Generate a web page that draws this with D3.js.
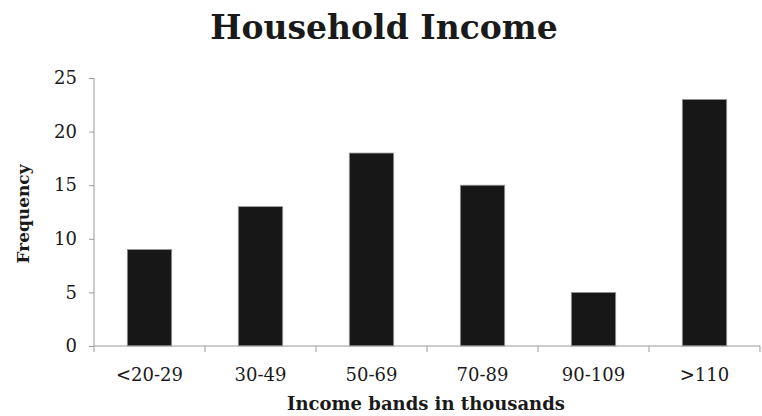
<!DOCTYPE html>
<html>
<head>
<meta charset="utf-8">
<script src="https://cdn.jsdelivr.net/npm/d3@7"></script>
<style>
  body { margin: 0; background: #fff; }
  text { font-family: "DejaVu Serif", serif; fill: #1a1a1a; }
</style>
</head>
<body>
<svg id="chart" width="762" height="416"></svg>
<script>
// income bands and how many households fell in each
var bands = ["<20-29", "30-49", "50-69", "70-89", "90-109", ">110"];
var frequency = [9, 13, 18, 15, 5, 23];
var yTicks = [0, 5, 10, 15, 20, 25];

var W = 762, H = 416;
var margin = {top: 78, right: 2, bottom: 70, left: 94};

var svg = d3.select("#chart");

var x = d3.scaleBand()
    .domain(bands)
    .range([margin.left, W - margin.right])
    .paddingInner(0.6)
    .paddingOuter(0.3);

var y = d3.scaleLinear()
    .domain([0, 25])
    .range([H - margin.bottom, margin.top]);

// title
svg.append("text")
    .attr("x", 384).attr("y", 39)
    .attr("text-anchor", "middle")
    .style("font-size", "33px").style("font-weight", "bold")
    .text("Household Income");

// bars (drawn before axes so axis line sits on top)
svg.append("g").selectAll("rect")
    .data(frequency)
    .enter().append("rect")
    .attr("x", function(d, i){ return x(bands[i]); })
    .attr("y", function(d){ return y(d); })
    .attr("width", x.bandwidth())
    .attr("height", function(d){ return y(0) - y(d); })
    .attr("fill", "#171717")
    .attr("stroke", "#9a9a9a")
    .attr("stroke-width", 0.8);

// y axis
var yAxis = svg.append("g")
    .attr("transform", "translate(" + margin.left + ",0)")
    .call(d3.axisLeft(y).tickValues(yTicks).tickSize(5).tickPadding(12));

// x axis - ticks sit on band edges, not centres
var edges = bands.map(function(b){ return x(b) - x.step()*x.paddingInner()/2; });
edges.push(W - margin.right);
var xAxis = svg.append("g")
    .attr("transform", "translate(0," + y(0) + ")");
xAxis.append("line")
    .attr("x1", margin.left).attr("x2", W - margin.right)
    .attr("stroke", "#9a9a9a");
xAxis.selectAll("line.tk")
    .data(edges).enter().append("line")
    .attr("class", "tk")
    .attr("x1", function(d){ return d; }).attr("x2", function(d){ return d; })
    .attr("y1", 0).attr("y2", 6)
    .attr("stroke", "#9a9a9a");
xAxis.selectAll("text")
    .data(bands).enter().append("text")
    .attr("x", function(d){ return x(d) + x.bandwidth()/2; })
    .attr("y", 35)
    .attr("text-anchor", "middle")
    .style("font-size", "18px")
    .text(function(d){ return d; });

yAxis.selectAll("path, line").attr("stroke", "#9a9a9a");
yAxis.select(".domain").attr("d", "M0," + y(25) + "V" + y(0));
yAxis.selectAll("text")
    .style("font-family", "DejaVu Serif, serif")
    .style("font-size", "18px")
    .attr("fill", "#1a1a1a");

// axis titles
svg.append("text")
    .attr("transform", "translate(29," + (y(12.5) + 2) + ") rotate(-90)")
    .attr("text-anchor", "middle")
    .style("font-size", "17px").style("font-weight", "bold")
    .text("Frequency");

svg.append("text")
    .attr("x", 426).attr("y", 410)
    .attr("text-anchor", "middle")
    .style("font-size", "18px").style("font-weight", "bold")
    .text("Income bands in thousands");
</script>
</body>
</html>
